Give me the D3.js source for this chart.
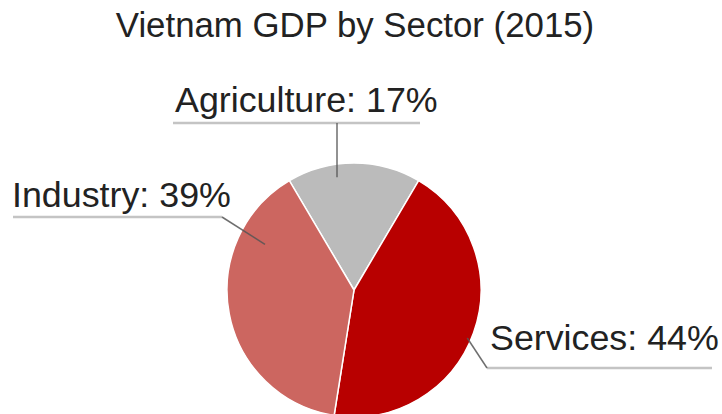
<!DOCTYPE html>
<html>
<head>
<meta charset="utf-8">
<script src="https://cdn.jsdelivr.net/npm/d3@7"></script>
<style>
  html, body { margin: 0; padding: 0; background: #fff; }
  svg { display: block; font-family: "Liberation Sans", Arial, sans-serif; }
</style>
</head>
<body>
<svg id="chart" width="722" height="414"></svg>
<script>
const title = "Vietnam GDP by Sector (2015)";
const sectors = ["Agriculture", "Services", "Industry"];
const shares = [17, 44, 39];
const colors = ["#bbbbbb", "#b80000", "#cc6660"];

const svg = d3.select("#chart");
const cx = 354, cy = 290, R = 127;

svg.append("text")
  .attr("x", 355).attr("y", 37)
  .attr("text-anchor", "middle")
  .attr("font-size", 34.8)
  .attr("fill", "#222")
  .text(title);

const data = sectors.map((s, i) => ({ name: s, value: shares[i], color: colors[i] }));
const total = d3.sum(shares);
const start = -Math.PI * shares[0] / total;

const pie = d3.pie().sort(null).value(d => d.value)
  .startAngle(start).endAngle(start + 2 * Math.PI);
const arcs = pie(data);
const arc = d3.arc().innerRadius(0).outerRadius(R);

const g = svg.append("g").attr("transform", `translate(${cx},${cy})`);
g.selectAll("path").data(arcs).enter().append("path")
  .attr("d", arc)
  .attr("fill", d => d.data.color)
  .attr("stroke", "#fff")
  .attr("stroke-width", 1.5);

// label layout: anchor point inside slice (fraction along slice, radius), text position, underline extent
const layout = {
  "Agriculture": { frac: 0.36, r: 114, tx: 175, ty: 112, ux0: 173, ux1: 420, uy: 123, elbow: 337 },
  "Industry":    { frac: 0.77, r: 100, tx: 12,  ty: 207, ux0: 13,  ux1: 222, uy: 217, elbow: 222 },
  "Services":    { frac: 0.52, r: 123, tx: 490, ty: 350, ux0: 487, ux1: 712, uy: 368, elbow: 487 }
};

const fmt = d => `${d.data.name}: ${Math.round(d.value / total * 100)}%`;

arcs.forEach(d => {
  const L = layout[d.data.name];
  const a = d.startAngle + (d.endAngle - d.startAngle) * L.frac;
  const ax = cx + L.r * Math.sin(a);
  const ay = cy - L.r * Math.cos(a);
  svg.append("line")
    .attr("x1", L.ux0).attr("x2", L.ux1)
    .attr("y1", L.uy).attr("y2", L.uy)
    .attr("stroke", "#c4c4c4").attr("stroke-width", 2.5);
  svg.append("line")
    .attr("x1", L.elbow).attr("y1", L.uy)
    .attr("x2", ax).attr("y2", ay)
    .attr("stroke", "#555").attr("stroke-opacity", 0.85).attr("stroke-width", 1.5);
  svg.append("text")
    .attr("x", L.tx).attr("y", L.ty)
    .attr("font-size", 35.8)
    .attr("fill", "#222")
    .text(fmt(d));
});
</script>
</body>
</html>
